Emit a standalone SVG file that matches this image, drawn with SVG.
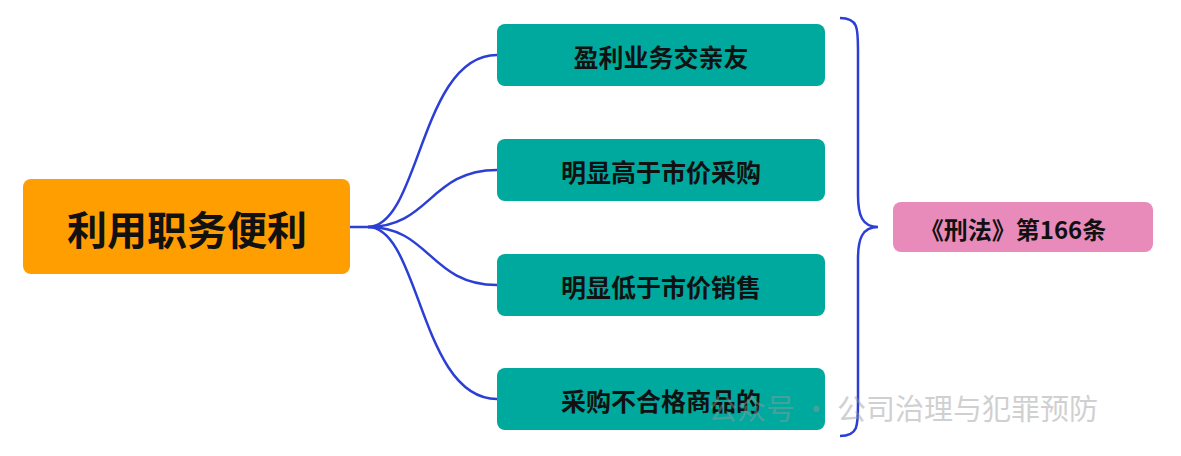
<svg xmlns="http://www.w3.org/2000/svg" width="1181" height="456" viewBox="0 0 1181 456">
<style>
.t{font-family:"Noto Sans CJK SC","Noto Sans",sans-serif;font-weight:bold;text-anchor:middle;dominant-baseline:central;fill:#111}
.c{fill:none;stroke:#2B3FD6;stroke-width:2.5}
.k{fill:#00A99D}
</style>
<rect width="1181" height="456" fill="#fff"/>
<g id="connectors">
<path class="c" d="M350 227 H368"/>
<path class="c" d="M368 227 C420 227 420 55 497 55"/>
<path class="c" d="M368 227 C430 227 430 170 497 170"/>
<path class="c" d="M368 227 C430 227 430 285 497 285"/>
<path class="c" d="M368 227 C420 227 420 399 497 399"/>
<path class="c" d="M840 18 C858 18 858 28 858 50 V195 C858 215 862 227 878 227 C862 227 858 239 858 259 V404 C858 426 858 436 840 436"/>
</g>
<g id="root"><rect x="23" y="179" width="327" height="95" rx="8" fill="#FF9E00"/><text class="t" x="187" y="228" font-size="40">利用职务便利</text></g>
<g id="n1"><rect class="k" x="497" y="24" width="328" height="62" rx="8"/><text class="t" x="661" y="56" font-size="25">盈利业务交亲友</text></g>
<g id="n2"><rect class="k" x="497" y="139" width="328" height="62" rx="8"/><text class="t" x="661" y="171" font-size="25">明显高于市价采购</text></g>
<g id="n3"><rect class="k" x="497" y="254" width="328" height="62" rx="8"/><text class="t" x="661" y="286" font-size="25">明显低于市价销售</text></g>
<g id="n4"><rect class="k" x="497" y="368" width="328" height="62" rx="8"/><text class="t" x="661" y="400" font-size="25">采购不合格商品的</text></g>
<g id="law"><rect x="893" y="202" width="260" height="50" rx="8" fill="#E88BBA"/><text class="t" x="1013" y="228" font-size="24">《刑法》第166条</text></g>
<g id="watermark" opacity="0.45"><text x="708" y="420" font-family="'Noto Sans CJK SC',sans-serif" font-size="29" fill="#999">公众号 · 公司治理与犯罪预防</text></g>
</svg>
